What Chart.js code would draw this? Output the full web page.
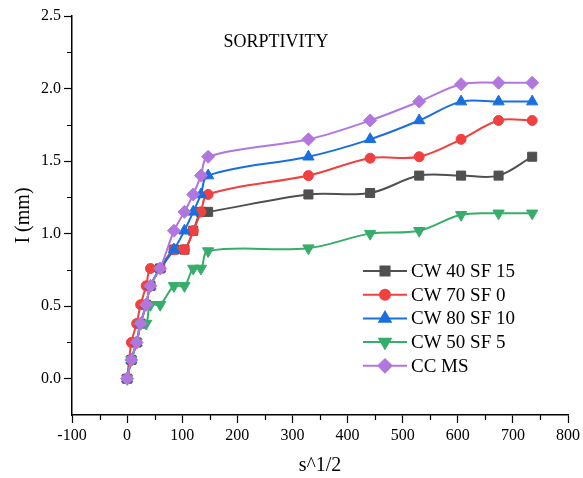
<!DOCTYPE html>
<html>
<head>
<meta charset="utf-8">
<script src="https://cdn.jsdelivr.net/npm/chart.js@4.4.1/dist/chart.umd.min.js"></script>
<style>
    html, body { margin: 0; padding: 0; background: #fff; }
    #wrap { width: 583px; height: 478px; }
</style>
</head>
<body>
<div id="wrap"><canvas id="chart"></canvas></div>
<script>
// x = sqrt(time, s), y = I (mm)
const X_VALUES = [0, 7.7, 17.3, 24.5, 34.6, 42.4, 60, 85, 104, 120, 134, 147, 329, 441, 530, 606, 674, 735];

const CW40_SF15 = [0, 0.13, 0.25, 0.38, 0.51, 0.64, 0.76, 0.89, 0.89, 1.02, 1.15, 1.15, 1.27, 1.28, 1.40, 1.40, 1.40, 1.53];
const CW70_SF0  = [0, 0.25, 0.38, 0.51, 0.64, 0.76, 0.76, 0.89, 0.89, 1.02, 1.15, 1.27, 1.40, 1.52, 1.53, 1.65, 1.78, 1.78];
const CW80_SF10 = [0, 0.13, 0.25, 0.38, 0.51, 0.64, 0.76, 0.89, 1.02, 1.15, 1.27, 1.40, 1.53, 1.65, 1.78, 1.91, 1.91, 1.91];
const CW50_SF5  = [0, 0.13, 0.25, 0.38, 0.38, 0.51, 0.51, 0.64, 0.64, 0.76, 0.76, 0.88, 0.90, 1.00, 1.02, 1.13, 1.14, 1.14];
const CC_MS     = [0, 0.13, 0.25, 0.38, 0.51, 0.64, 0.76, 1.02, 1.15, 1.27, 1.40, 1.53, 1.65, 1.78, 1.91, 2.03, 2.04, 2.04];

const SERIES_NAMES = ['CW 40 SF 15', 'CW 70 SF 0', 'CW 80 SF 10', 'CW 50 SF 5', 'CC MS'];
const SERIES_DATA  = [CW40_SF15, CW70_SF0, CW80_SF10, CW50_SF5, CC_MS];

const X_MIN = -100, X_MAX = 800, X_STEP = 50, X_MAJOR = 100;
const Y_MIN = -0.25, Y_MAX = 2.5, Y_STEP = 0.25, Y_MAJOR = 0.5;

const SERIF = "'Liberation Serif', 'Times New Roman', serif";

// look of each series (Origin default palette)
const STYLES = [
    { color: '#505050', pointStyle: 'rect',     radius: 6.4, rotation: 0 },
    { color: '#f14040', pointStyle: 'circle',   radius: 5,   rotation: 0 },
    { color: '#1a6fdf', pointStyle: 'triangle', radius: 6.5, rotation: 0 },
    { color: '#37ad6b', pointStyle: 'triangle', radius: 6.5, rotation: 180 },
    { color: '#b177de', pointStyle: 'rectRot',  radius: 6.5, rotation: 0 },
];

const isMajor = (v, major) => Math.abs(v / major - Math.round(v / major)) < 1e-6;

const datasets = SERIES_DATA.map((vals, i) => {
    const s = STYLES[i];
    return {
        label: SERIES_NAMES[i],
        data: X_VALUES.map((x, k) => ({ x, y: vals[k] })),
        borderColor: s.color,
        backgroundColor: s.color,
        borderWidth: 2,
        pointStyle: s.pointStyle,
        pointRadius: s.radius,
        pointRotation: s.rotation,
        pointBorderWidth: 1,
        pointBackgroundColor: s.color,
        pointBorderColor: s.color,
        tension: 0.35,
        order: SERIES_DATA.length - i,   // last series on top
    };
});

// ─── plugins: title text, legend with line+marker, minor ticks ─────────────
const extrasPlugin = {
    id: 'extras',
    afterDraw(chart) {
        const ctx = chart.ctx;
        const xs = chart.scales.x, ys = chart.scales.y;
        const area = chart.chartArea;

        ctx.save();
        // minor ticks
        ctx.strokeStyle = '#000';
        ctx.lineWidth = 1.2;
        ctx.beginPath();
        for (let v = Y_MIN + Y_STEP; v <= Y_MAX + 1e-9; v += Y_STEP) {
            if (isMajor(v, Y_MAJOR)) continue;
            const py = Math.round(ys.getPixelForValue(v)) + 0.5;
            ctx.moveTo(area.left - 5, py);
            ctx.lineTo(area.left, py);
        }
        for (let v = X_MIN + X_STEP; v <= X_MAX + 1e-9; v += X_STEP) {
            if (isMajor(v, X_MAJOR)) continue;
            const px = Math.round(xs.getPixelForValue(v)) + 0.5;
            ctx.moveTo(px, area.bottom);
            ctx.lineTo(px, area.bottom + 5);
        }
        ctx.stroke();

        // title inside the plot
        ctx.fillStyle = '#000';
        ctx.font = `18px ${SERIF}`;
        ctx.textAlign = 'center';
        ctx.textBaseline = 'middle';
        ctx.fillText('SORPTIVITY', 276, 42);

        // legend
        ctx.font = `19px ${SERIF}`;
        ctx.textAlign = 'left';
        SERIES_NAMES.forEach((name, i) => {
            const s = STYLES[i];
            const y = 271 + i * 23.7;
            ctx.strokeStyle = s.color;
            ctx.fillStyle = s.color;
            ctx.lineWidth = 2;
            ctx.beginPath();
            ctx.moveTo(363, y);
            ctx.lineTo(407, y);
            ctx.stroke();
            Chart.helpers.drawPoint(ctx, {
                pointStyle: s.pointStyle, radius: s.radius,
                rotation: s.rotation, borderWidth: 1
            }, 385, y);
            ctx.fillStyle = '#000';
            ctx.fillText(name, 411, y + 1);
        });
        ctx.restore();
    }
};

new Chart(document.getElementById('chart'), {
    type: 'line',
    data: { datasets },
    plugins: [extrasPlugin],
    options: {
        responsive: true,
        maintainAspectRatio: false,
        animation: false,
        layout: { padding: { top: 16, right: 15, left: 0, bottom: 0 } },
        plugins: { legend: { display: false }, tooltip: { enabled: false } },
        scales: {
            x: {
                type: 'linear',
                min: X_MIN, max: X_MAX,
                afterFit: s => { s.height = 63; },
                border: { display: true, color: '#000', width: 1.5 },
                grid: {
                    drawOnChartArea: false, drawTicks: true, tickLength: 8, tickWidth: 1.2,
                    tickColor: c => isMajor(c.tick.value, X_MAJOR) ? '#000' : 'rgba(0,0,0,0)'
                },
                ticks: {
                    stepSize: X_STEP, autoSkip: false, maxRotation: 0, padding: 3,
                    color: '#000', font: { family: SERIF, size: 16 },
                    callback: v => isMajor(v, X_MAJOR) ? String(v) : ''
                },
                title: {
                    display: true, text: 's^1/2', color: '#000',
                    font: { family: SERIF, size: 20 }, padding: { top: 0, bottom: 0 }
                }
            },
            y: {
                type: 'linear',
                min: Y_MIN, max: Y_MAX,
                afterFit: s => { s.width = 72; },
                border: { display: true, color: '#000', width: 1.5 },
                grid: {
                    drawOnChartArea: false, drawTicks: true, tickLength: 8, tickWidth: 1.2,
                    tickColor: c => isMajor(c.tick.value, Y_MAJOR) ? '#000' : 'rgba(0,0,0,0)'
                },
                ticks: {
                    stepSize: Y_STEP, autoSkip: false, padding: 3,
                    color: '#000', font: { family: SERIF, size: 16 },
                    callback: v => isMajor(v, Y_MAJOR) ? v.toFixed(1) : ''
                },
                title: {
                    display: true, text: 'I (mm)', color: '#000',
                    font: { family: SERIF, size: 20 }, padding: { top: 12, bottom: 0 }
                }
            }
        }
    }
});
</script>
</body>
</html>
